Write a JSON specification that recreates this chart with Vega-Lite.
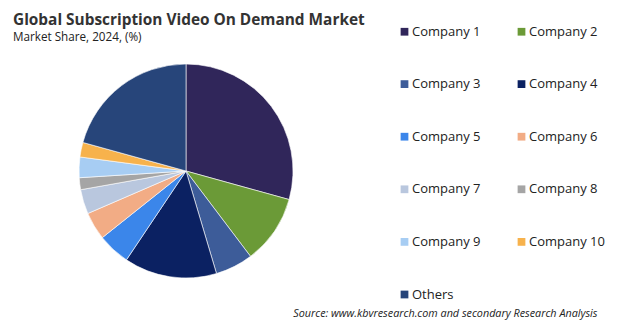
{
  "$schema": "https://vega.github.io/schema/vega-lite/v6.json",
  "width": 372,
  "height": 300,
  "autosize": {"type": "none"},
  "padding": {"left": 0, "top": 21, "right": 249, "bottom": 1},
  "background": "white",
  "config": {"view": {"stroke": null}},
  "title": {
    "text": "Global Subscription Video On Demand Market",
    "subtitle": "Market Share, 2024, (%)",
    "anchor": "start",
    "frame": "group",
    "offset": -23,
    "dx": 13,
    "font": "Open Sans",
    "fontSize": 15.4,
    "fontWeight": "bold",
    "color": "#333333",
    "subtitleFont": "Open Sans",
    "subtitleFontSize": 11.7,
    "subtitleColor": "#222222",
    "subtitlePadding": 4
  },
  "data": {
    "values": [
      {"company": "Company 1", "share": 29.3, "idx": 1},
      {"company": "Company 2", "share": 10.4, "idx": 2},
      {"company": "Company 3", "share": 5.7, "idx": 3},
      {"company": "Company 4", "share": 14.0, "idx": 4},
      {"company": "Company 5", "share": 4.9, "idx": 5},
      {"company": "Company 6", "share": 4.2, "idx": 6},
      {"company": "Company 7", "share": 3.7, "idx": 7},
      {"company": "Company 8", "share": 1.8, "idx": 8},
      {"company": "Company 9", "share": 3.1, "idx": 9},
      {"company": "Company 10", "share": 2.2, "idx": 10},
      {"company": "Others", "share": 20.7, "idx": 11}
    ]
  },
  "layer": [
    {
      "mark": {"type": "arc", "radius": 107, "stroke": "#ffffff", "strokeWidth": 0.6},
      "encoding": {
        "theta": {"field": "share", "type": "quantitative", "stack": true},
        "order": {"field": "idx", "type": "quantitative"},
        "color": {
          "field": "company",
          "type": "nominal",
          "sort": {"field": "idx"},
          "scale": {
            "domain": ["Company 1", "Company 2", "Company 3", "Company 4", "Company 5", "Company 6", "Company 7", "Company 8", "Company 9", "Company 10", "Others"],
            "range": ["#30265a", "#6b9a37", "#3d5c99", "#0b2162", "#3b86ea", "#f2ac85", "#b9c7de", "#a5a5a5", "#a7cdf3", "#f7b24c", "#27457a"]
          },
          "legend": {
            "orient": "none",
            "direction": "horizontal",
            "legendX": 398,
            "legendY": 4,
            "title": null,
            "columns": 2,
            "columnPadding": 34,
            "rowPadding": 38.6,
            "padding": 0,
            "symbolType": "square",
            "symbolSize": 60,
            "symbolStrokeWidth": 0,
            "labelOffset": 1,
            "labelFont": "Open Sans",
            "labelFontSize": 13,
            "labelColor": "#222222"
          }
        }
      }
    },
    {
      "mark": {"type": "text", "text": ""},
      "encoding": {
        "x": {
          "datum": 0,
          "type": "quantitative",
          "axis": {
            "title": "Source: www.kbvresearch.com and secondary Research Analysis",
            "domain": false,
            "ticks": false,
            "labels": false,
            "grid": false,
            "titleFont": "Open Sans",
            "titleFontStyle": "italic",
            "titleFontWeight": "normal",
            "titleFontSize": 10.8,
            "titleColor": "#222222",
            "titleX": 597,
            "titleY": -5,
            "titleAlign": "right",
            "titleAnchor": null,
            "titleBaseline": "alphabetic"
          }
        }
      }
    }
  ]
}
